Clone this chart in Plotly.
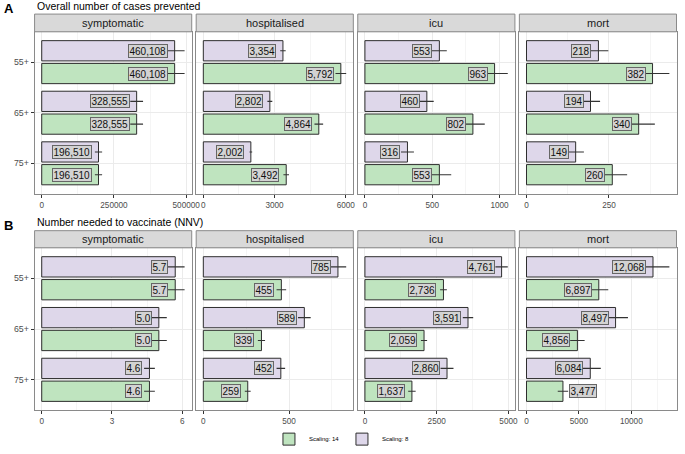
import plotly.graph_objects as go

# ---------------- data ----------------
groups = ["55+", "65+", "75+"]
facets = ["symptomatic", "hospitalised", "icu", "mort"]
series_names = ["Scaling: 8", "Scaling: 14"]

# Panel A: overall number of cases prevented
A_s14 = {
    "symptomatic": [460108, 328555, 196510],
    "hospitalised": [5792, 4864, 3492],
    "icu": [963, 802, 553],
    "mort": [382, 340, 260],
}
A_s8 = {
    "symptomatic": [460108, 328555, 196510],
    "hospitalised": [3354, 2802, 2002],
    "icu": [553, 460, 316],
    "mort": [218, 194, 149],
}
A_s14_upper = {
    "symptomatic": [494500, 350700, 209000],
    "hospitalised": [6017, 5046, 3610],
    "icu": [1061, 890, 641],
    "mort": [433, 389, 305],
}
A_s8_upper = {
    "symptomatic": [494500, 350700, 209000],
    "hospitalised": [3469, 2905, 2058],
    "icu": [608, 511, 364],
    "mort": [248, 223, 174],
}

# Panel B: number needed to vaccinate
B_s14 = {
    "symptomatic": [5.7, 5.0, 4.6],
    "hospitalised": [455, 339, 259],
    "icu": [2736, 2059, 1637],
    "mort": [6897, 4856, 3477],
}
B_s8 = {
    "symptomatic": [5.7, 5.0, 4.6],
    "hospitalised": [785, 589, 452],
    "icu": [4761, 3591, 2860],
    "mort": [12068, 8497, 6084],
}
B_s14_upper = {
    "symptomatic": [6.1, 5.34, 4.83],
    "hospitalised": [483, 360, 276],
    "icu": [2854, 2166, 1767],
    "mort": [7800, 5545, 3974],
}
B_s8_upper = {
    "symptomatic": [6.1, 5.34, 4.83],
    "hospitalised": [833, 626, 477],
    "icu": [4976, 3772, 3085],
    "mort": [13630, 9680, 7087],
}

A_dtick = {"symptomatic": 250000, "hospitalised": 3000, "icu": 500, "mort": 250}
B_dtick = {"symptomatic": 3, "hospitalised": 500, "icu": 2500, "mort": 5000}

row_titles = ["Overall number of cases prevented", "Number needed to vaccinate (NNV)"]
row_letters = ["A", "B"]

# ---------------- styling ----------------
W, H = 685, 454
FONT = "Liberation Sans, Arial, sans-serif"
COL = {"Scaling: 8": "#DED7EA", "Scaling: 14": "#BFE4BF"}
RANK = {"Scaling: 8": 2, "Scaling: 14": 1}
BORDER = "#8a8a8a"
panel_left = [35, 198.5, 362, 525.5]
panel_w = 159
rows_px = [  # strip_top, plot_top, plot_bottom
    (14.3, 32.3, 196.7),
    (234.3, 251.7, 416.7),
]
# labels placed outside (to the right of) the bar end
LABEL_OUTSIDE = {(1, "mort", "Scaling: 14", "75+")}


def px_x(p):
    return p / W


def px_y(p):
    return 1 - p / H


def fmt(v):
    return f"{v:.1f}" if v < 10 else f"{v:,.0f}"


fig = go.Figure()
layout = {}
shapes = []
annotations = []

row_data = [
    ({"Scaling: 8": A_s8, "Scaling: 14": A_s14},
     {"Scaling: 8": A_s8_upper, "Scaling: 14": A_s14_upper}, A_dtick),
    ({"Scaling: 8": B_s8, "Scaling: 14": B_s14},
     {"Scaling: 8": B_s8_upper, "Scaling: 14": B_s14_upper}, B_dtick),
]

for r, (vals, uppers, dticks) in enumerate(row_data):
    strip_top, plot_top, plot_bottom = rows_px[r]
    for c, f in enumerate(facets):
        k = r * 4 + c + 1
        xa = f"x{k}"
        ya = f"y{k}"
        M = max(max(uppers[s][f]) for s in series_names)
        for s in series_names:
            v = vals[s][f]
            err = [u - x for u, x in zip(uppers[s][f], v)]
            fig.add_trace(go.Bar(
                x=v, y=groups, orientation="h", name=s,
                legendgroup=s, legendrank=RANK[s],
                showlegend=(k == 1),
                marker=dict(color=COL[s], line=dict(color="#2e2e2e", width=1)),
                error_x=dict(type="data", array=err, symmetric=True,
                             color="#333333", thickness=1.1, width=0),
                xaxis=xa, yaxis=ya, hoverinfo="skip",
            ))
            off = -0.225 if s == "Scaling: 8" else 0.225
            for gi, g in enumerate(groups):
                outside = (r, f, s, g) in LABEL_OUTSIDE
                annotations.append(dict(
                    x=v[gi], y=gi + off, xref=xa, yref=ya,
                    text=fmt(v[gi]), showarrow=False,
                    xanchor="left" if outside else "right",
                    xshift=6 if outside else -7,
                    yanchor="middle",
                    font=dict(family=FONT, size=10, color="#111111"),
                    bgcolor="#D3D3D3", bordercolor="#666666",
                    borderwidth=1, borderpad=0.5,
                ))
        x0 = panel_left[c]
        x1 = x0 + panel_w
        dt = dticks[f]
        suffix = "" if k == 1 else str(k)
        layout["xaxis" + suffix] = dict(
            domain=[px_x(x0), px_x(x1)], anchor=ya,
            range=[-0.05 * M, 1.05 * M], tick0=0, dtick=dt, tickformat="d",
            showgrid=True, gridcolor="#EBEBEB", gridwidth=1,
            minor=dict(dtick=dt / 2, tick0=0, showgrid=True,
                       gridcolor="#F5F5F5", gridwidth=0.6),
            zeroline=False, showline=True, mirror=True,
            linecolor=BORDER, linewidth=1,
            ticks="outside", ticklen=3, tickcolor="#333333", tickwidth=1,
            tickfont=dict(family=FONT, size=8.2, color="#4D4D4D"),
            fixedrange=True,
        )
        layout["yaxis" + suffix] = dict(
            domain=[px_y(plot_bottom), px_y(plot_top)], anchor=xa,
            type="category", categoryorder="array", categoryarray=groups,
            range=[2.6, -0.6],
            showgrid=True, gridcolor="#EBEBEB", gridwidth=1,
            zeroline=False, showline=True, mirror=True,
            linecolor=BORDER, linewidth=1,
            ticks="outside" if c == 0 else "", ticklen=3,
            tickcolor="#333333", tickwidth=1,
            showticklabels=(c == 0),
            tickfont=dict(family=FONT, size=8.8, color="#4D4D4D"),
            fixedrange=True,
        )
        # strip
        shapes.append(dict(
            type="rect", xref="paper", yref="paper",
            x0=px_x(x0), x1=px_x(x1), y0=px_y(plot_top), y1=px_y(strip_top),
            fillcolor="#D9D9D9", line=dict(color=BORDER, width=1), layer="above",
        ))
        annotations.append(dict(
            x=px_x((x0 + x1) / 2), y=px_y((strip_top + plot_top) / 2),
            xref="paper", yref="paper", text=f, showarrow=False,
            xanchor="center", yanchor="middle",
            font=dict(family=FONT, size=11, color="#1A1A1A"),
        ))
    # row title and letter
    annotations.append(dict(
        x=px_x(2), y=px_y(strip_top - 5.5), xref="paper", yref="paper",
        text=f"<b>{row_letters[r]}</b>", showarrow=False,
        xanchor="left", yanchor="middle",
        font=dict(family=FONT, size=13, color="#000000"),
    ))
    annotations.append(dict(
        x=px_x(35), y=px_y(strip_top - 8.5), xref="paper", yref="paper",
        text=row_titles[r], showarrow=False,
        xanchor="left", yanchor="middle",
        font=dict(family=FONT, size=10.5, color="#000000"),
    ))

fig.update_layout(
    width=W, height=H,
    margin=dict(l=0, r=0, t=0, b=0),
    paper_bgcolor="white", plot_bgcolor="white",
    barmode="group", bargap=0.1, bargroupgap=0.111,
    font=dict(family=FONT),
    showlegend=True,
    legend=dict(orientation="h", x=px_x(346), xanchor="center",
                y=px_y(446), yanchor="middle",
                font=dict(family=FONT, size=6, color="#000000"),
                itemwidth=30, entrywidth=28, entrywidthmode="pixels",
                bgcolor="rgba(0,0,0,0)",
                traceorder="normal"),
    shapes=shapes, annotations=annotations,
    **layout,
)

fig.write_html(
    "out.html",
    config={"displayModeBar": False},
    post_script="document.body.style.margin='0';document.body.style.overflow='hidden';",
)
